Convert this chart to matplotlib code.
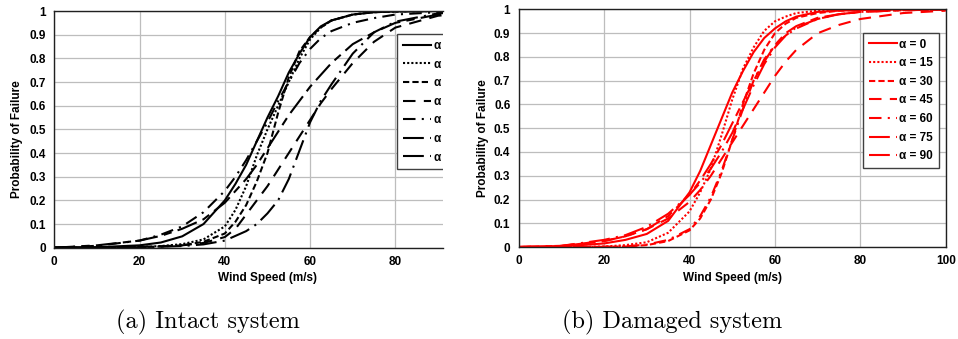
import numpy as np
import matplotlib
matplotlib.use("Agg")
import matplotlib.pyplot as plt

# ---------------- data ----------------
wind = [0, 10, 20, 25, 30, 35, 40, 42.5, 45, 47.5, 50, 52.5, 55, 57.5, 60, 62.5, 65, 70, 75, 80, 90, 100]
labels = ["α = 0", "α = 15", "α = 30", "α = 45", "α = 60", "α = 75", "α = 90"]

intact_a0  = [0, 0.002, 0.01, 0.022, 0.048, 0.10, 0.20, 0.27, 0.35, 0.45, 0.55, 0.64, 0.74, 0.82, 0.89, 0.935, 0.96, 0.985, 0.995, 0.998, 1, 1]
intact_a15 = [0, 0.0005, 0.003, 0.007, 0.015, 0.035, 0.09, 0.16, 0.26, 0.39, 0.50, 0.60, 0.70, 0.80, 0.88, 0.93, 0.96, 0.985, 0.995, 0.998, 1, 1]
intact_a30 = [0, 0.0003, 0.002, 0.005, 0.01, 0.025, 0.06, 0.11, 0.18, 0.28, 0.40, 0.57, 0.72, 0.83, 0.89, 0.93, 0.96, 0.985, 0.995, 0.998, 1, 1]
intact_a45 = [0, 0.002, 0.004, 0.006, 0.01, 0.02, 0.045, 0.08, 0.14, 0.20, 0.26, 0.33, 0.40, 0.47, 0.54, 0.61, 0.67, 0.78, 0.87, 0.93, 0.98, 0.995]
intact_a60 = [0, 0.008, 0.03, 0.055, 0.09, 0.15, 0.24, 0.30, 0.37, 0.45, 0.53, 0.62, 0.70, 0.78, 0.84, 0.885, 0.915, 0.95, 0.97, 0.985, 0.995, 1]
intact_a75 = [0, 0.01, 0.03, 0.05, 0.08, 0.12, 0.19, 0.24, 0.29, 0.35, 0.42, 0.49, 0.56, 0.62, 0.68, 0.73, 0.78, 0.86, 0.91, 0.95, 0.985, 0.995]
intact_a90 = [0, 0.0005, 0.002, 0.004, 0.007, 0.014, 0.03, 0.05, 0.07, 0.10, 0.145, 0.20, 0.29, 0.41, 0.53, 0.62, 0.69, 0.82, 0.91, 0.955, 0.99, 0.998]

damaged_a0  = [0, 0.002, 0.015, 0.03, 0.055, 0.11, 0.23, 0.32, 0.43, 0.54, 0.65, 0.74, 0.82, 0.88, 0.92, 0.95, 0.97, 0.99, 0.995, 0.998, 1, 1]
damaged_a15 = [0, 0, 0.002, 0.008, 0.02, 0.06, 0.15, 0.23, 0.33, 0.47, 0.62, 0.75, 0.84, 0.91, 0.95, 0.97, 0.985, 0.995, 0.999, 1, 1, 1]
damaged_a30 = [0, 0, 0.001, 0.002, 0.008, 0.025, 0.07, 0.12, 0.20, 0.31, 0.45, 0.60, 0.73, 0.83, 0.90, 0.94, 0.965, 0.985, 0.995, 0.998, 1, 1]
damaged_a45 = [0, 0.005, 0.025, 0.045, 0.075, 0.12, 0.19, 0.24, 0.30, 0.37, 0.44, 0.51, 0.58, 0.65, 0.72, 0.78, 0.83, 0.90, 0.935, 0.96, 0.985, 0.995]
damaged_a60 = [0, 0, 0.001, 0.003, 0.01, 0.03, 0.075, 0.13, 0.21, 0.32, 0.45, 0.58, 0.70, 0.79, 0.85, 0.89, 0.92, 0.96, 0.98, 0.99, 0.997, 1]
damaged_a75 = [0, 0.004, 0.025, 0.045, 0.075, 0.13, 0.22, 0.28, 0.35, 0.43, 0.52, 0.61, 0.70, 0.78, 0.85, 0.90, 0.93, 0.965, 0.98, 0.99, 0.997, 1]
damaged_a90 = [0, 0.005, 0.03, 0.05, 0.085, 0.14, 0.22, 0.27, 0.33, 0.40, 0.48, 0.58, 0.68, 0.77, 0.84, 0.89, 0.925, 0.96, 0.98, 0.99, 0.997, 1]

intact = [intact_a0, intact_a15, intact_a30, intact_a45, intact_a60, intact_a75, intact_a90]
damaged = [damaged_a0, damaged_a15, damaged_a30, damaged_a45, damaged_a60, damaged_a75, damaged_a90]

yticks = [0, 0.1, 0.2, 0.3, 0.4, 0.5, 0.6, 0.7, 0.8, 0.9, 1]
xticks = [0, 20, 40, 60, 80, 100]

# ---------------- styling ----------------
styles = ["-", (0, (1, 1)), (0, (3, 1.5)), (0, (6, 4)), (0, (6, 3, 1, 3)),
          (0, (10, 3, 4, 3)), (0, (10, 3, 1, 3))]

plt.rcParams['font.family'] = ['Liberation Sans', 'DejaVu Sans']
plt.rcParams['font.weight'] = 'bold'
FS = 8.5

W, H = 958, 339
fig = plt.figure(figsize=(W / 100, H / 100), dpi=100)

def fx(p):
    return p / W

def fy(p):
    return 1 - p / H

axL = fig.add_axes([fx(54.3), fy(247.7), fx(442.7 - 54.3), (247.7 - 11) / H])
axR = fig.add_axes([fx(518.7), fy(247.0), fx(945.7 - 518.7), (247.0 - 9.5) / H])

def setup(ax, xmax, color, series, legend_anchor, ylab_x, xlab_x, hide_right):
    for s, ls, lab in zip(series, styles, labels):
        ax.plot(wind, s, color=color, lw=1.5, linestyle=ls, label=lab,
                dash_capstyle='butt')
    ax.set_xticks(xticks)
    ax.set_yticks(yticks)
    ax.set_yticklabels([f"{v:g}" for v in yticks])
    ax.set_xticklabels([f"{v:g}" for v in xticks])
    ax.set_xlim(0, xmax)
    ax.set_ylim(0, 1)
    ax.tick_params(length=0, labelsize=FS, pad=6)
    for lab in ax.get_xticklabels() + ax.get_yticklabels():
        lab.set_fontweight('bold')
    ax.grid(True, color='#bdbdbd', lw=0.9)
    ax.set_axisbelow(True)
    for sp in ax.spines.values():
        sp.set_color('#202020')
        sp.set_linewidth(1.0)
    if hide_right:
        ax.spines['right'].set_visible(False)
    ax.set_xlabel("Wind Speed (m/s)", fontsize=FS, fontweight='bold')
    ax.set_ylabel("Probability of Failure", fontsize=FS, fontweight='bold')
    ax.xaxis.label.set_va('center')
    ax.xaxis.set_label_coords(xlab_x, -0.129)
    ax.yaxis.label.set_va('center')
    ax.yaxis.set_label_coords(ylab_x, 0.46)
    leg = ax.legend(loc='upper left', bbox_to_anchor=legend_anchor,
                    bbox_transform=fig.transFigure, borderaxespad=0,
                    handlelength=2.4, handletextpad=0.2,
                    borderpad=0.5, labelspacing=0.56, fancybox=False,
                    framealpha=1, edgecolor='#404040',
                    prop={'weight': 'bold', 'size': FS})
    leg.get_frame().set_linewidth(1.0)
    return leg

legL = setup(axL, 91.1, 'black', intact, (fx(397), fy(34)),
             (17 - 54.3) / 388.4, 0.549, True)
legR = setup(axR, 100, '#ff0000', damaged, (fx(862.7), fy(32.7)),
             (483 - 518.7) / 427, 0.50, False)

# clip the left legend at the (cropped) plot edge
clip_artists = [legL.legendPatch] + legL.get_texts() + list(legL.legend_handles)
for a in clip_artists:
    a.set_clip_on(True)
    a.set_clip_box(axL.bbox)

fig.text(fx(208), fy(322), "(a) Intact system", fontsize=17.5,
         family='cmr10', fontweight='normal', ha='center', va='center')
fig.text(fx(672), fy(322), "(b) Damaged system", fontsize=17.5,
         family='cmr10', fontweight='normal', ha='center', va='center')

fig.savefig("out.png", dpi=100)
